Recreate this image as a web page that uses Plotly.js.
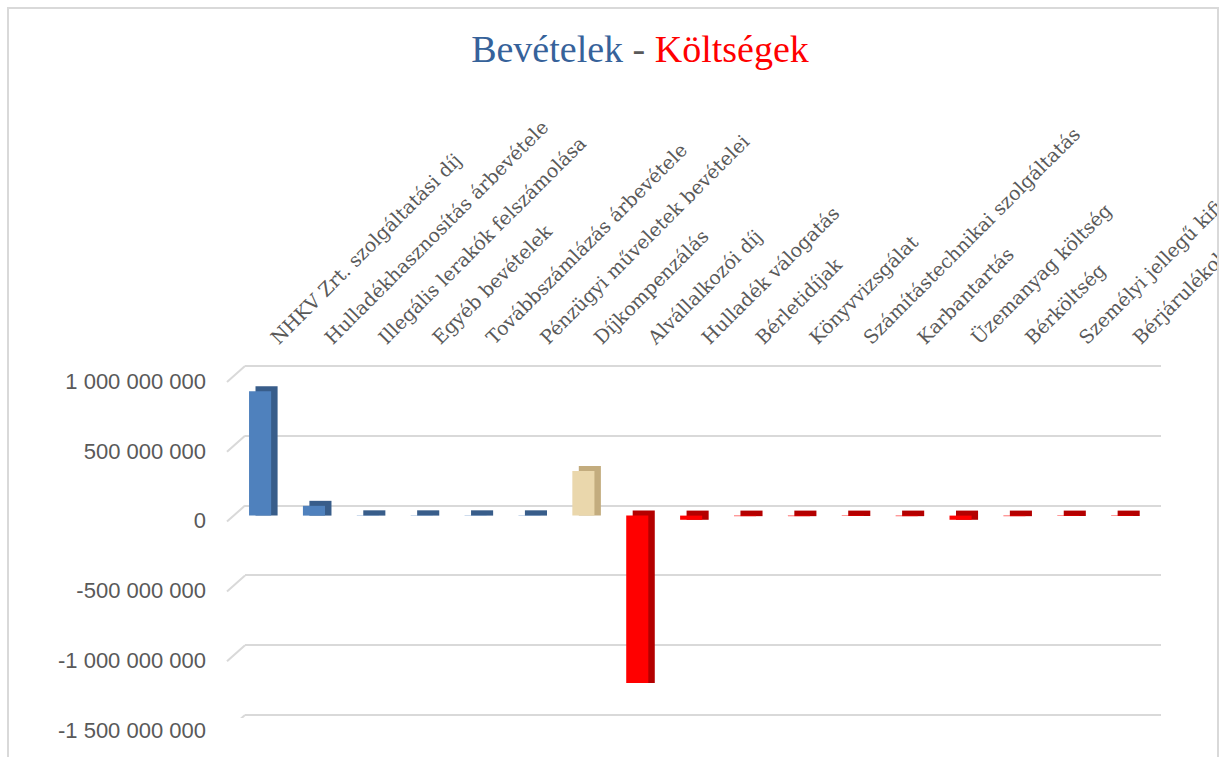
<!DOCTYPE html>
<html>
<head>
<meta charset="utf-8">
<script src="https://cdn.plot.ly/plotly-3.0.1.min.js"></script>
<style>
  html, body { margin: 0; padding: 0; background: #ffffff; overflow: hidden; }
  #chart { width: 1222px; height: 757px; }
  #frame { position: absolute; left: 7px; top: 7px; width: 1212px; height: 800px;
           box-sizing: border-box; border: 2px solid #d9d9d9; border-bottom: none; pointer-events: none; }
  #clipR { position: absolute; left: 1219px; top: 0; width: 10px; height: 757px; background: #ffffff; pointer-events: none; }
</style>
</head>
<body>
<div id="chart"></div>
<div id="clipR"></div>
<div id="frame"></div>
<script>
// ---- data ----
const categories = [
  "NHKV Zrt. szolgáltatási díj",
  "Hulladékhasznosítás árbevétele",
  "Illegális lerakók felszámolása",
  "Egyéb bevételek",
  "Továbbszámlázás árbevétele",
  "Pénzügyi műveletek bevételei",
  "Díjkompenzálás",
  "Alvállalkozói díj",
  "Hulladék válogatás",
  "Bérletidíjak",
  "Könyvvizsgálat",
  "Számítástechnikai szolgáltatás",
  "Karbantartás",
  "Üzemanyag költség",
  "Bérköltség",
  "Személyi jellegű kifizetések",
  "Bérjárulékok"
];
const values = [
  890000000, 70000000, 2000000, 2000000, 2000000, 2000000,
  320000000,
  -1200000000, -30000000, -4000000, -4000000, -3000000, -4000000, -30000000, -4000000, -3000000, -3000000
];
const kinds = [
  "bevétel", "bevétel", "bevétel", "bevétel", "bevétel", "bevétel",
  "kompenzáció",
  "költség", "költség", "költség", "költség", "költség", "költség", "költség", "költség", "költség", "költség"
];
const yTickValues = [1000000000, 500000000, 0, -500000000, -1000000000, -1500000000];
const yTickLabels = ["1 000 000 000", "500 000 000", "0", "-500 000 000", "-1 000 000 000", "-1 500 000 000"];

// ---- styling ----
const frontColor = { "bevétel": "#4F81BD", "kompenzáció": "#EAD7AC", "költség": "#FF0000" };
const depthColor = { "bevétel": "#385D8A", "kompenzáció": "#C3AC7E", "költség": "#B40000" };
const yMin = -1500000000, yMax = 1000000000;
const gridSpanPx = 349;
const unitPerPx = (yMax - yMin) / gridSpanPx;
const padPx = 3;
const frontDrop = 10 * unitPerPx;   // bars stand in front of the back wall
const depthRise = 5 * unitPerPx;    // visible top/side depth of a bar
const barW = 0.41, depthShift = 0.12;

const idx = categories.map((_, i) => i);

const dummy = {
  type: "scatter", x: idx, y: values, xaxis: "x", yaxis: "y",
  mode: "markers", marker: { opacity: 0 }, hoverinfo: "skip", showlegend: false
};
const depth = {
  type: "bar", x: idx,
  y: values.map(v => Math.abs(v) + depthRise),
  base: values.map(v => Math.min(0, v)),
  xaxis: "x", yaxis: "y2",
  width: barW, offset: -barW / 2 + depthShift,
  marker: { color: kinds.map(k => depthColor[k]), line: { width: 0 } },
  showlegend: false, hoverinfo: "skip"
};
const front = {
  type: "bar", x: idx, y: values,
  xaxis: "x", yaxis: "y2",
  width: barW, offset: -barW / 2,
  marker: { color: kinds.map(k => frontColor[k]), line: { width: 0 } },
  showlegend: false
};

const diagShapes = yTickValues.map(v => ({
  type: "line", xref: "paper", x0: -18 / 916, x1: 0,
  yref: "y", ysizemode: "pixel", yanchor: v, y0: -16, y1: 0,
  line: { color: "#d9d9d9", width: 2 }
}));

const layout = {
  width: 1222, height: 757,
  paper_bgcolor: "#ffffff", plot_bgcolor: "#ffffff",
  margin: { l: 245, r: 61, t: 366 - padPx, b: 42 - padPx },
  barmode: "overlay",
  title: {
    text: '<span style="color:#36629A">Bevételek</span><span style="color:#595959"> - </span><span style="color:#FF0000">Költségek</span>',
    font: { family: "Liberation Serif", size: 38 },
    xref: "container", x: 640 / 1222, xanchor: "center",
    yref: "container", y: 1 - 49 / 757, yanchor: "middle"
  },
  xaxis: {
    range: [-0.28, 16.72], side: "top", tickangle: -45,
    tickmode: "array", tickvals: idx, ticktext: categories,
    tickfont: { family: "DejaVu Serif", size: 19, color: "#595959" },
    ticklabeloverflow: "allow", ticklabelshift: 12, ticklabelstandoff: 10,
    showgrid: false, zeroline: false, showline: false, ticks: "", fixedrange: true
  },
  yaxis: {
    range: [yMin - padPx * unitPerPx, yMax + padPx * unitPerPx],
    tickmode: "array", tickvals: yTickValues, ticktext: yTickLabels,
    tickfont: { family: "Liberation Sans", size: 22, color: "#595959" },
    showgrid: true, gridcolor: "#d9d9d9", gridwidth: 2,
    zeroline: false, showline: false, ticks: "",
    ticklabelshift: 15, ticklabelstandoff: 38
  },
  yaxis2: {
    overlaying: "y", anchor: "x",
    range: [yMin - padPx * unitPerPx + frontDrop, yMax + padPx * unitPerPx + frontDrop],
    visible: false, showgrid: false, zeroline: false
  },
  shapes: diagShapes,
  showlegend: false
};

Plotly.newPlot("chart", [dummy, depth, front], layout, { staticPlot: true, displayModeBar: false });
</script>
</body>
</html>
